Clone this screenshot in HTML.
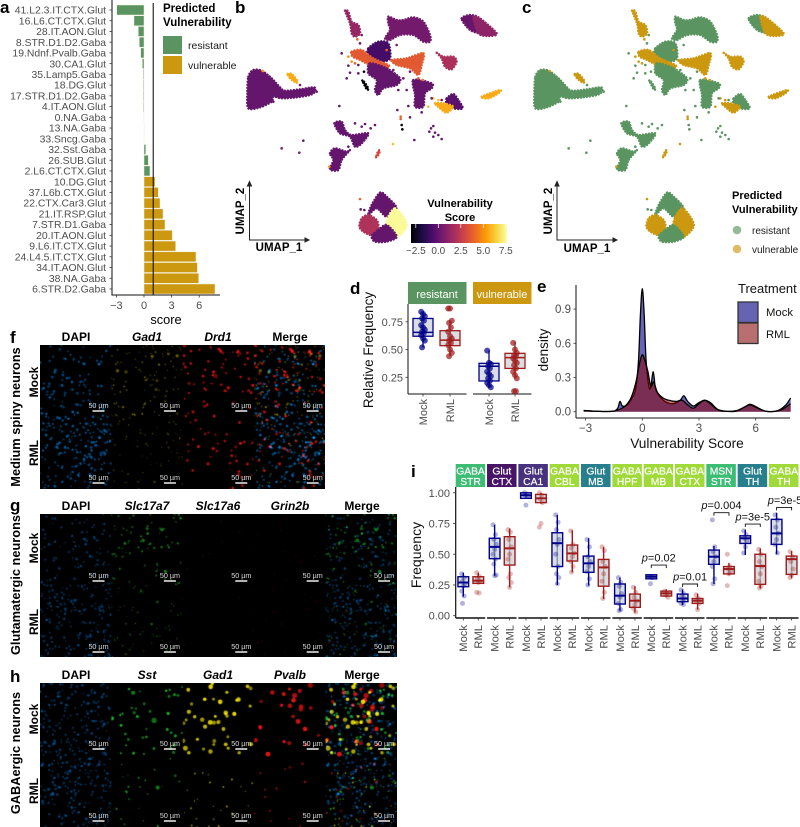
<!DOCTYPE html>
<html><head><meta charset="utf-8"><title>Vulnerability figure</title>
<style>
html,body{margin:0;padding:0;background:#fff;width:800px;height:827px;overflow:hidden}
#fig{position:relative;width:800px;height:827px}
canvas{position:absolute;display:block;background:#000}
svg{position:absolute;left:0;top:0}
text{font-family:"Liberation Sans",sans-serif}
.pl{font-size:17px;font-weight:700;fill:#000}
.bt{font-size:12px;font-weight:700;fill:#000;text-anchor:middle}
.bi{font-size:12px;font-weight:700;font-style:italic;fill:#000;text-anchor:middle}
.rt{font-size:12.800px;font-weight:700;fill:#000;text-anchor:middle}
.tk{font-size:11px;fill:#4d4d4d}
.lg{font-size:10.500px;fill:#1a1a1a}
</style></head><body>
<div id="fig">
<canvas id="cf" width="285" height="144" style="left:40px;top:345px"></canvas>
<canvas id="cg" width="357" height="143" style="left:40px;top:514px"></canvas>
<canvas id="ch" width="357" height="144" style="left:40px;top:683px"></canvas>
<svg id="s" width="800" height="827" viewBox="0 0 800 827">
<defs>
<linearGradient id="inf" x1="0" x2="1" y1="0" y2="0">
<stop offset="0" stop-color="#000004"/><stop offset=".111" stop-color="#1b0c41"/><stop offset=".222" stop-color="#4a0c6b"/><stop offset=".333" stop-color="#781c6d"/><stop offset=".444" stop-color="#a52c60"/><stop offset=".556" stop-color="#cf4446"/><stop offset=".667" stop-color="#ed6925"/><stop offset=".778" stop-color="#fb9b06"/><stop offset=".889" stop-color="#f7d13d"/><stop offset="1" stop-color="#fcffa4"/>
</linearGradient>
</defs>
<text class="pl" x="0" y="13">a</text>
<text class="pl" x="235" y="13">b</text>
<text class="pl" x="522" y="13">c</text>
<text class="pl" x="350" y="294">d</text>
<text class="pl" x="537" y="292">e</text>
<text class="pl" x="10" y="343">f</text>
<text class="pl" x="10" y="511">g</text>
<text class="pl" x="10" y="682">h</text>
<text class="pl" x="411" y="477">i</text>

<g id="pa"></g>
<text x="166" y="324" style="font-size:12.800px;text-anchor:middle;fill:#000">score</text>
<text x="163" y="12" style="font-size:11.500px;font-weight:700">Predicted</text>
<text x="163" y="26" style="font-size:11.500px;font-weight:700">Vulnerability</text>
<rect x="163" y="36" width="19" height="18" fill="#5a9460"/>
<rect x="163" y="56" width="19" height="18" fill="#cb9810"/>
<text class="lg" x="188" y="49">resistant</text>
<text class="lg" x="188" y="69">vulnerable</text>

<g id="pb"></g>
<g id="pc"></g>
<g stroke="#222" fill="none" stroke-width="1">
<path d="M249.500 184V240H306"/>
<path d="M247.500 186L249.500 181.500L251.500 186Z M305 238L309 240L305 242Z" fill="#222"/>
</g>
<text x="279" y="251" style="font-size:11.500px;font-weight:700;text-anchor:middle">UMAP_1</text>
<text transform="translate(244,211) rotate(-90)" style="font-size:11.500px;font-weight:700;text-anchor:middle">UMAP_2</text>
<g stroke="#222" fill="none" stroke-width="1">
<path d="M557 184V240H614"/>
<path d="M555 186L557 181.500L559 186Z M613 238L617 240L613 242Z" fill="#222"/>
</g>
<text x="587" y="252" style="font-size:11.500px;font-weight:700;text-anchor:middle">UMAP_1</text>
<text transform="translate(552,211) rotate(-90)" style="font-size:11.500px;font-weight:700;text-anchor:middle">UMAP_2</text>

<text x="460" y="207" style="font-size:11px;font-weight:700;text-anchor:middle">Vulnerability</text>
<text x="460" y="221" style="font-size:11px;font-weight:700;text-anchor:middle">Score</text>
<rect x="411" y="224" width="96" height="19" fill="url(#inf)"/>
<g id="cbt"></g>

<text x="732" y="199" style="font-size:11px;font-weight:700">Predicted</text>
<text x="732" y="213" style="font-size:11px;font-weight:700">Vulnerability</text>
<circle cx="737" cy="230" r="4.300" fill="#5a9460" opacity=".65"/>
<circle cx="737" cy="249" r="4.300" fill="#cb9810" opacity=".65"/>
<text class="lg" x="752" y="234" style="font-size:10px">resistant</text>
<text class="lg" x="752" y="253" style="font-size:10px">vulnerable</text>

<g id="pd"></g>
<rect x="408" y="282" width="58.500" height="22" fill="#5a9460"/>
<rect x="473" y="282" width="58.500" height="22" fill="#cb9810"/>
<text x="437" y="298" style="font-size:11px;fill:#fff;text-anchor:middle">resistant</text>
<text x="502" y="298" style="font-size:11px;fill:#fff;text-anchor:middle">vulnerable</text>
<text transform="translate(373,350) rotate(-90)" style="font-size:13.500px;text-anchor:middle;fill:#111">Relative Frequency</text>

<g id="pe"></g>
<text x="687" y="448" style="font-size:13.700px;text-anchor:middle;fill:#111">Vulnerability Score</text>
<text transform="translate(548,350) rotate(-90)" style="font-size:13.500px;text-anchor:middle;fill:#111">density</text>
<text x="738" y="293" style="font-size:13px;fill:#111">Treatment</text>
<rect x="738" y="302" width="20" height="20.500" fill="#6464b2" stroke="#333" stroke-width="1.300"/>
<rect x="738" y="323" width="20" height="20.500" fill="#b96f70" stroke="#333" stroke-width="1.300"/>
<text x="766" y="316" style="font-size:11.300px;fill:#111">Mock</text>
<text x="766" y="338" style="font-size:11.300px;fill:#111">RML</text>

<g id="pi"></g>
<text transform="translate(421,555) rotate(-90)" style="font-size:14px;text-anchor:middle;fill:#111">Frequency</text>

<text class="bt" x="76" y="341">DAPI</text>
<text class="bi" x="147" y="341">Gad1</text>
<text class="bi" x="218" y="341">Drd1</text>
<text class="bt" x="290" y="341">Merge</text>
<text class="bt" x="76" y="510">DAPI</text>
<text class="bi" x="147" y="510">Slc17a7</text>
<text class="bi" x="218" y="510">Slc17a6</text>
<text class="bi" x="290" y="510">Grin2b</text>
<text class="bt" x="362" y="510">Merge</text>
<text class="bt" x="76" y="679">DAPI</text>
<text class="bi" x="147" y="679">Sst</text>
<text class="bi" x="218" y="679">Gad1</text>
<text class="bi" x="290" y="679">Pvalb</text>
<text class="bt" x="362" y="679">Merge</text>

<text class="rt" transform="translate(20,417) rotate(-90)">Medium spiny neurons</text>
<text class="bt" transform="translate(38,382) rotate(-90)">Mock</text>
<text class="bt" transform="translate(38,453) rotate(-90)">RML</text>
<text class="rt" transform="translate(20,585) rotate(-90)">Glutamatergic neurons</text>
<text class="bt" transform="translate(38,548) rotate(-90)">Mock</text>
<text class="bt" transform="translate(38,622) rotate(-90)">RML</text>
<text class="rt" transform="translate(20,753) rotate(-90)">GABAergic neurons</text>
<text class="bt" transform="translate(38,719) rotate(-90)">Mock</text>
<text class="bt" transform="translate(38,791) rotate(-90)">RML</text>
<g id="bars"></g>
</svg>
</div>
<script>
/* ---------- panel a data ---------- */
const aCategories=["41.L2.3.IT.CTX.Glut","16.L6.CT.CTX.Glut","28.IT.AON.Glut","8.STR.D1.D2.Gaba","19.Ndnf.Pvalb.Gaba","30.CA1.Glut","35.Lamp5.Gaba","18.DG.Glut","17.STR.D1.D2.Gaba","4.IT.AON.Glut","0.NA.Gaba","13.NA.Gaba","33.Sncg.Gaba","32.Sst.Gaba","26.SUB.Glut","2.L6.CT.CTX.Glut","10.DG.Glut","37.L6b.CTX.Glut","22.CTX.Car3.Glut","21.IT.RSP.Glut","7.STR.D1.Gaba","20.IT.AON.Glut","9.L6.IT.CTX.Glut","24.L4.5.IT.CTX.Glut","34.IT.AON.Glut","38.NA.Gaba","6.STR.D2.Gaba"];
const aScores=[-2.97,-1.09,-0.62,-0.51,-0.36,-0.18,-0.09,-0.08,-0.08,-0.07,-0.01,0.01,0.03,0.2,0.47,0.65,1.2,1.56,1.74,2.07,2.28,3.08,3.44,5.65,5.8,5.94,7.72];
const aTicks=[-3,0,3,6];
const aCutoff=1;
const aVulnerableFrom=16;

/* ---------- panels b, c data (UMAP embedding units) ---------- */
const umapClusterNames=["left-main","left-streak","top-left-streak","top-arc","top-right-left","top-right-right","center-dark","center-band","right-band","right-blob","center-main","right-center","small-dark","small-orange","far-right-streak","lower-one","lower-two","black-squiggle","small-streak","tri-top","tri-left","tri-right","tri-bottom"];
const umapClusterScores=[0,5.6,1.3,0.4,0.1,1.1,-0.8,3.6,3.6,1.9,0,0,-0.3,5.6,5.6,0,0,-3,3,0,2,7.5,0];
const umapClusterOutlines=[
[[25,570],[40,590],[65,588],[95,565],[120,538],[135,528],[180,532],[222,538],[225,525],[210,515],[170,508],[125,505],[100,510],[95,495],[60,478],[25,475],[22,520]],
[[143,578],[155,578],[172,558],[168,552],[150,565]],
[[315,768],[325,765],[335,735],[355,725],[360,700],[345,690],[335,700],[330,730]],
[[445,750],[470,740],[490,740],[520,748],[550,735],[570,695],[570,675],[550,675],[520,695],[480,695],[450,680],[435,685],[450,710],[445,730]],
[[665,745],[690,755],[715,745],[740,700],[700,705],[680,720]],
[[700,750],[720,745],[770,700],[745,692],[715,700]],
[[385,655],[415,675],[445,670],[450,625],[420,615],[385,635]],
[[335,645],[365,650],[400,625],[445,605],[440,595],[400,600],[360,620],[338,630]],
[[455,620],[500,625],[550,640],[545,605],[535,575],[510,595],[470,605]],
[[590,642],[610,630],[640,630],[650,615],[635,592],[615,600],[605,625]],
[[390,610],[440,595],[480,565],[470,545],[430,535],[415,515],[405,530],[410,560],[385,580]],
[[520,560],[575,550],[575,535],[555,520],[550,480],[525,480],[525,515]],
[[620,505],[640,518],[655,500],[668,475],[640,475],[620,490]],
[[585,490],[610,490],[640,480],[620,462],[600,475]],
[[725,510],[780,530],[775,520],[745,505]],
[[283,430],[305,435],[315,410],[335,395],[385,400],[365,370],[345,360],[330,390],[300,400]],
[[270,340],[285,355],[320,345],[330,350],[305,320],[295,290],[270,292],[280,320]],
[[367,558],[372,555],[385,535],[380,532]],
[[408,328],[415,335],[420,348],[415,348],[410,335]],
[[420,222],[440,210],[470,175],[440,150],[410,175],[385,155],[395,185]],
[[385,155],[410,140],[415,115],[395,95],[370,105],[358,120],[365,145]],
[[465,175],[490,150],[500,120],[470,90],[440,120],[445,150]],
[[415,110],[440,125],[470,90],[440,75],[405,75],[395,92]]
];
const umapCellU1=[190,125,178,298,345,365,405,392,375,325,482,482,485,487,472,510,505,530,545,580,573,568,585,605,595,580,523,459,305,325,335,325,330,320,355,365,352,360,372,345,355,470,475,490,535,548,500,510,565,580,605,595,630,68,100,180,230,268,360,373,362,345,545,440,460,575];
const umapCellU2=[378,355,342,482,430,420,425,415,428,360,450,443,425,412,470,448,482,488,463,422,415,405,402,383,395,390,380,368,640,630,615,603,582,565,580,695,682,670,585,610,605,665,530,565,565,560,530,585,480,505,500,500,495,587,495,545,525,300,203,170,172,365,640,650,590,505];
const umapCellScore=[0,0.5,0.5,0,0,0.2,0,0,0,0,3.8,3.8,-3,-3,0,0,0,0,0,0,0.3,0,0,0,0,0,0,6,0,5,5,0,0,0,0,0,4,0,-3,4,0,0.5,0,0,3.5,4,0,0,6,6,0,6,0,5,0,0.3,0,5,4,0,0,0,4,4,0,0];
const colorbarTicks=[-2.5,0,2.5,5,7.5];
const vulnerableThreshold=1;

/* ---------- panel d data ---------- */
const dFacets=["resistant","vulnerable"];
const dGroups=["Mock","RML"];
const dTicks=[0.25,0.5,0.75];
const dQ1=[0.62,0.535,0.217,0.33];
const dMedian=[0.655,0.585,0.35,0.427];
const dQ3=[0.78,0.67,0.376,0.466];
const dLow=[0.52,0.44,0.16,0.24];
const dHigh=[0.84,0.76,0.49,0.57];
const dPoints=[
[0.84,0.82,0.8,0.78,0.76,0.72,0.7,0.68,0.66,0.65,0.63,0.6,0.58,0.52],
[0.87,0.87,0.76,0.74,0.7,0.66,0.62,0.6,0.58,0.56,0.54,0.5,0.47,0.44],
[0.49,0.38,0.37,0.35,0.33,0.3,0.28,0.26,0.24,0.22,0.2,0.18,0.16],
[0.56,0.5,0.47,0.45,0.44,0.42,0.4,0.38,0.36,0.33,0.3,0.27,0.24,0.125,0.125]];

/* ---------- panel e data ---------- */
const eXTicks=[-3,0,3,6];
const eYTicks=[0,0.3,0.6,0.9];
const eMockScore=[-3.1,-2.6,-2,-1.5,-1.3,-1.18,-1.05,-0.8,-0.55,-0.35,-0.2,-0.1,0,0.1,0.2,0.35,0.45,0.58,0.7,0.9,1.2,1.6,2,2.2,2.4,2.7,3,3.3,3.6,4,4.5,5,5.4,5.7,6,6.5,7,7.3,7.6,7.85];
const eMockDensity=[0.01,0.005,0.002,0.005,0.03,0.09,0.05,0.06,0.12,0.2,0.45,0.85,1.08,0.85,0.45,0.22,0.22,0.35,0.2,0.14,0.09,0.07,0.1,0.14,0.09,0.05,0.08,0.1,0.08,0.02,0.003,0.005,0.04,0.065,0.045,0.005,0.003,0.02,0.06,0.12];
const eRmlScore=[-3.1,-2.6,-2,-1.5,-1.2,-0.9,-0.6,-0.35,-0.15,0,0.15,0.3,0.45,0.6,0.8,1.1,1.4,1.8,2.1,2.4,2.7,3,3.3,3.6,4,4.5,5,5.4,5.7,6,6.5,7,7.4,7.85];
const eRmlDensity=[0.01,0.005,0.002,0.005,0.02,0.05,0.12,0.25,0.42,0.5,0.44,0.35,0.22,0.26,0.17,0.12,0.1,0.09,0.1,0.06,0.03,0.07,0.1,0.07,0.015,0.003,0.01,0.04,0.06,0.04,0.005,0.003,0.02,0.07];

/* ---------- panel i data ---------- */
const iFacetLine1=["GABA","Glut","Glut","GABA","Glut","GABA","GABA","GABA","MSN","Glut","GABA"];
const iFacetLine2=["STR","CTX","CA1","CBL","MB","HPF","MB","CTX","STR","TH","TH"];
const iFacetColors=["#3dbc74","#481467","#46327e","#a0da39","#277f8e","#a0da39","#a0da39","#a0da39","#3dbc74","#277f8e","#a0da39"];
const iTicks=[0,0.25,0.5,0.75,1];
const iTickLabels=["0.00","0.25","0.50","0.75","1.00"];
const iQ1=[0.236,0.263,0.464,0.412,0.955,0.92,0.4,0.445,0.353,0.24,0.095,0.068,0.3,0.16,0.114,0.1,0.418,0.34,0.588,0.255,0.58,0.336];
const iMedian=[0.27,0.285,0.56,0.548,0.98,0.955,0.59,0.507,0.426,0.393,0.163,0.122,0.317,0.182,0.14,0.122,0.48,0.38,0.63,0.404,0.67,0.46];
const iQ3=[0.317,0.317,0.63,0.643,1,0.987,0.675,0.575,0.485,0.458,0.258,0.176,0.333,0.2,0.176,0.14,0.534,0.4,0.65,0.5,0.784,0.485];
const iLow=[0.155,0.26,0.325,0.23,0.95,0.91,0.25,0.353,0.245,0.135,0.04,0.025,0.3,0.15,0.087,0.05,0.258,0.33,0.494,0.222,0.5,0.304];
const iHigh=[0.35,0.35,0.74,0.71,1,1,0.82,0.695,0.63,0.56,0.31,0.24,0.333,0.215,0.214,0.18,0.567,0.43,0.7,0.548,0.838,0.526];
const iPoints=[
[0.34,0.31,0.28,0.26,0.24,0.2,0.16,0.1],[0.35,0.32,0.3,0.28,0.27,0.19,0.185],
[0.74,0.66,0.62,0.58,0.54,0.5,0.46,0.42,0.33,0.325],[0.7,0.68,0.62,0.56,0.5,0.46,0.34,0.31,0.27,0.23],
[1,0.99,0.98,0.97,0.9],[1,0.98,0.95,0.92,0.75,0.72],
[0.82,0.76,0.7,0.62,0.58,0.5,0.4,0.34,0.31,0.26],[0.69,0.58,0.55,0.51,0.48,0.44,0.4,0.355],
[0.62,0.56,0.48,0.44,0.4,0.36,0.3,0.25],[0.56,0.53,0.44,0.4,0.34,0.28,0.19,0.14],
[0.31,0.27,0.24,0.18,0.15,0.1,0.05,0.04],[0.23,0.19,0.15,0.12,0.09,0.06,0.03],
[0.32,0.31,0.26],[0.2,0.18,0.17,0.15],
[0.21,0.18,0.16,0.14,0.12,0.1,0.09],[0.17,0.14,0.12,0.1,0.05],
[0.78,0.56,0.52,0.48,0.44,0.4,0.3,0.26],[0.5,0.4,0.38,0.36,0.34,0.245],
[0.69,0.66,0.63,0.61,0.56,0.51],[0.54,0.5,0.44,0.4,0.34,0.28,0.24,0.225],
[0.82,0.78,0.72,0.67,0.62,0.58,0.51],[0.52,0.48,0.44,0.38,0.33,0.31]];
const iPValueFacets=[6,7,8,9,10];
const iPValueLabels=["=0.02","=0.01","=0.004","=3e-5","=3e-5"];
const iPValueHeights=[0.412,0.258,0.838,0.746,0.881];

/* ---------- helpers ---------- */
const NS="http://www.w3.org/2000/svg";
function mk(parent,tag,attrs,txt){
  const el=document.createElementNS(NS,tag);
  for(const k in attrs) el.setAttribute(k,attrs[k]);
  if(txt!==undefined) el.textContent=txt;
  parent.appendChild(el);
  return el;
}
const $=id=>document.getElementById(id);
const MOCK="#00008b", RML="#a01c1c";

function smoothPath(xs,ys){
  let d="M"+xs[0].toFixed(2)+" "+ys[0].toFixed(2);
  for(let i=0;i<xs.length-1;i++){
    const i0=Math.max(0,i-1),i3=Math.min(xs.length-1,i+2);
    const c1x=xs[i]+(xs[i+1]-xs[i0])/6,c1y=ys[i]+(ys[i+1]-ys[i0])/6;
    const c2x=xs[i+1]-(xs[i3]-xs[i])/6,c2y=ys[i+1]-(ys[i3]-ys[i])/6;
    d+="C"+c1x.toFixed(2)+" "+c1y.toFixed(2)+" "+c2x.toFixed(2)+" "+c2y.toFixed(2)+" "+xs[i+1].toFixed(2)+" "+ys[i+1].toFixed(2);
  }
  return d;
}
function closedSmoothPath(xs,ys){
  const n=xs.length;
  let d="M"+xs[0].toFixed(2)+" "+ys[0].toFixed(2);
  for(let i=0;i<n;i++){
    const a=(i-1+n)%n,b=(i+1)%n,c=(i+2)%n;
    const c1x=xs[i]+(xs[b]-xs[a])/7,c1y=ys[i]+(ys[b]-ys[a])/7;
    const c2x=xs[b]-(xs[c]-xs[i])/7,c2y=ys[b]-(ys[c]-ys[i])/7;
    d+="C"+c1x.toFixed(2)+" "+c1y.toFixed(2)+" "+c2x.toFixed(2)+" "+c2y.toFixed(2)+" "+xs[b].toFixed(2)+" "+ys[b].toFixed(2);
  }
  return d+"Z";
}

function drawBox(parent,name,cx,w,yf,q1,med,q3,lo,hi,color,sw,msw){
  const g=mk(parent,"g",{});
  
  
  const wh=mk(g,"line",{x1:cx,x2:cx,y1:yf(lo),y2:yf(hi),stroke:color,"stroke-width":sw});
  
  
  const bx=mk(g,"rect",{x:cx-w/2,width:w,y:yf(q3),height:Math.max(yf(q1)-yf(q3),1),fill:"#c8d0d4","fill-opacity":.7,stroke:color,"stroke-width":sw});
  
  
  const md=mk(g,"line",{x1:cx-w/2,x2:cx+w/2,y1:yf(med),y2:yf(med),stroke:color,"stroke-width":msw});
  
  
  return g;
}

/* ---------- panel a ---------- */
(function(){
  const P=$("pa");
  const aX=v=>144+v*9.2, aY=i=>10+i*10.73;
  aCategories.forEach((c,i)=>{
    const v=aScores[i];
    const b=mk(P,"rect",{x:Math.min(aX(0),aX(v)),y:aY(i)-5,width:Math.abs(aX(v)-aX(0)),height:10,fill:i>=aVulnerableFrom?"#cb9810":"#5a9460",stroke:"#f4f1e0","stroke-width":.5});
    
    
    const t=mk(P,"text",{x:106,y:aY(i)+3.6,"text-anchor":"end",class:"tk",style:"font-size:10.400px"},c);
    
    
    const tk=mk(P,"line",{x1:109.500,x2:112,y1:aY(i),y2:aY(i),stroke:"#333","stroke-width":.8});
    
    
  });
  const yl=mk(P,"line",{x1:112,x2:112,y1:0,y2:295,stroke:"#444","stroke-width":1.300});
  
  
  const xl=mk(P,"line",{x1:111.500,x2:220,y1:295,y2:295,stroke:"#111","stroke-width":1});
  
  
  const cut=mk(P,"line",{x1:aX(aCutoff),x2:aX(aCutoff),y1:3,y2:295,stroke:"#000","stroke-width":1});
  
  
  aTicks.forEach(v=>{
    const tk=mk(P,"line",{x1:aX(v),x2:aX(v),y1:295,y2:297.500,stroke:"#333","stroke-width":.8});
    
    
    const t=mk(P,"text",{x:aX(v),y:309,"text-anchor":"middle",class:"tk"},String(v).replace("-","\u2212"));
    
    
  });
})();

/* ---------- panels b, c ---------- */
(function(){
  const stops=[[0,0,4],[27,12,65],[74,12,107],[120,28,109],[165,44,96],[207,68,70],[237,105,37],[251,155,6],[247,209,61],[252,255,164]];
  const inferno=v=>{
    let t=Math.max(0,Math.min(1,(v+3.03)/10.66))*9;
    const i=Math.min(8,Math.floor(t)),f=t-i,a=stops[i],b=stops[i+1];
    return "rgb("+a.map((c,k)=>Math.round(c+(b[k]-c)*f)).join(",")+")";
  };
  const classColor=v=>v>=vulnerableThreshold?"#cb9810":"#5a9460";
  const yU=u=>(800-u)/3;
  const draw=(P,xOrigin,colorOf,prefix)=>{
    const xU=u=>xOrigin+u/3;
    umapClusterOutlines.forEach((o,i)=>{
      const col=colorOf(umapClusterScores[i]);
      const d=closedSmoothPath(o.map(p=>xU(p[0])),o.map(p=>yU(p[1])));
      const c=mk(P,"path",{d:d,fill:col,stroke:col,"stroke-width":2.400,"stroke-linecap":"round","stroke-dasharray":"0.1 2.900"});
      
      
    });
    umapCellU1.forEach((u,i)=>{
      const c=mk(P,"circle",{cx:xU(u),cy:yU(umapCellU2[i]),r:1.300,fill:colorOf(umapCellScore[i])});
      
      
    });
  };
  draw($("pb"),240,inferno,"umap-score");
  draw($("pc"),527,classColor,"umap-class");
  const cbX=v=>438.3+v*9;
  colorbarTicks.forEach(v=>{
    const tk=mk($("cbt"),"line",{x1:cbX(v),x2:cbX(v),y1:224,y2:228,stroke:"#fff","stroke-width":.7});
    
    
    const t=mk($("cbt"),"text",{x:cbX(v),y:254,"text-anchor":"middle",class:"tk",style:"font-size:10px"},v.toFixed(1).replace("-","\u2212"));
    
    
  });
})();

/* ---------- panel d ---------- */
(function(){
  const P=$("pd");
  const dY=v=>377.3-(v-0.25)*111;
  const dCenters=k=>[423,450,489,515][k];
  const yl=mk(P,"line",{x1:408,x2:408,y1:304,y2:394,stroke:"#111","stroke-width":1});
  
  
  dFacets.forEach((f,i)=>{
    const x0=i?473:408;
    const xl=mk(P,"line",{x1:x0,x2:x0+58.500,y1:394,y2:394,stroke:"#111","stroke-width":1});
    
    
  });
  dTicks.forEach(v=>{
    const tk=mk(P,"line",{x1:405.500,x2:408,y1:dY(v),y2:dY(v),stroke:"#333","stroke-width":.8});
    
    
    const t=mk(P,"text",{x:403,y:dY(v)+4,"text-anchor":"end",class:"tk",style:"font-size:11px"},v.toFixed(2));
    
    
  });
  dPoints.forEach((vals,k)=>{
    const col=k%2?RML:MOCK, cx=dCenters(k);
    const g=drawBox(P,'box-'+dFacets[k>>1]+'-'+dGroups[k%2],cx,20,dY,dQ1[k],dMedian[k],dQ3[k],dLow[k],dHigh[k],col,1.300,1.500);
    vals.forEach((v,j)=>{
      const c=mk(g,"circle",{cx:cx+((j*7)%5-2)*.9,cy:dY(v),r:3,fill:col,"fill-opacity":.72});
      
      
    });
    const tk=mk(P,"line",{x1:cx,x2:cx,y1:394,y2:396.500,stroke:"#333","stroke-width":.8});
    
    
    const t=mk(P,"text",{transform:"translate("+(cx+3.800)+",399) rotate(-90)","text-anchor":"end",class:"tk"},dGroups[k%2]);
    
    
  });
})();

/* ---------- panel e ---------- */
(function(){
  const P=$("pe");
  const eX=v=>642.3+v*18.9, eY=v=>411.7-v*114;
  const area=(xs,ys,col,op,nm)=>{
    const px=xs.map(eX),py=ys.map(eY);
    const line=smoothPath(px,py);
    const a=mk(P,"path",{d:line+"L"+px[px.length-1]+" "+eY(0)+"L"+px[0]+" "+eY(0)+"Z",fill:col,"fill-opacity":op});
    
    
  };
  const outline=(xs,ys,nm)=>{
    const l=mk(P,"path",{d:smoothPath(xs.map(eX),ys.map(eY)),fill:"none",stroke:"#000","stroke-width":1.300});
    
    
  };
  area(eMockScore,eMockDensity,MOCK,.6,'mock');
  outline(eMockScore,eMockDensity,'mock');
  area(eRmlScore,eRmlDensity,"#8b0000",.55,'rml');
  outline(eRmlScore,eRmlDensity,'rml');
  const yl=mk(P,"line",{x1:576,x2:576,y1:285,y2:418,stroke:"#111","stroke-width":1});
  
  
  const xl=mk(P,"line",{x1:576,x2:790,y1:418,y2:418,stroke:"#111","stroke-width":1});
  
  
  eXTicks.forEach(v=>{
    const tk=mk(P,"line",{x1:eX(v),x2:eX(v),y1:418,y2:420.500,stroke:"#333","stroke-width":.8});
    
    
    const t=mk(P,"text",{x:eX(v),y:432,"text-anchor":"middle",class:"tk",style:"font-size:11.500px"},String(v).replace("-","\u2212"));
    
    
  });
  eYTicks.forEach(v=>{
    const tk=mk(P,"line",{x1:573.500,x2:576,y1:eY(v),y2:eY(v),stroke:"#333","stroke-width":.8});
    
    
    const t=mk(P,"text",{x:571,y:eY(v)+4,"text-anchor":"end",class:"tk",style:"font-size:11.500px"},v.toFixed(1));
    
    
  });
})();

/* ---------- panel i ---------- */
(function(){
  const P=$("pi");
  const iY=v=>615.7-v*122.9;
  const iFacetX=f=>455.7+f*31.33;
  const yl=mk(P,"line",{x1:455.700,x2:455.700,y1:487,y2:618,stroke:"#111","stroke-width":1.200});
  
  
  iTicks.forEach((v,i)=>{
    const tk=mk(P,"line",{x1:453,x2:455.700,y1:iY(v),y2:iY(v),stroke:"#333","stroke-width":.8});
    
    
    const t=mk(P,"text",{x:450,y:iY(v)+4,"text-anchor":"end",class:"tk",style:"font-size:11px"},iTickLabels[i]);
    
    
  });
  iFacetLine1.forEach((l1,f)=>{
    const x=iFacetX(f);
    const r=mk(P,"rect",{x:x,y:464,width:29.500,height:23,fill:iFacetColors[f]});
    
    
    const t1=mk(P,"text",{x:x+14.800,y:474.500,"text-anchor":"middle",fill:"#fff",stroke:"#fff","stroke-width":.2,style:"font-size:10.300px"},l1);
    
    
    const t2=mk(P,"text",{x:x+14.800,y:485,"text-anchor":"middle",fill:"#fff",stroke:"#fff","stroke-width":.2,style:"font-size:10.300px"},iFacetLine2[f]);
    
    
    const ax=mk(P,"line",{x1:x,x2:x+29.500,y1:618,y2:618,stroke:"#111","stroke-width":1.500});
    
    
    ["Mock","RML"].forEach((g,k)=>{
      const cx=x+7.600+k*15;
      const tk=mk(P,"line",{x1:cx,x2:cx,y1:618,y2:620.500,stroke:"#333","stroke-width":.8});
      
      
      const lb=mk(P,"text",{transform:"translate("+(cx+3.800)+",625) rotate(-90)","text-anchor":"end",class:"tk",style:"font-size:11.200px"},g);
      
      
      const n=f*2+k, col=k?RML:MOCK;
      const box=drawBox(P,'box-'+l1+'-'+iFacetLine2[f]+'-'+g,cx,10.700,iY,iQ1[n],iMedian[n],iQ3[n],iLow[n],iHigh[n],col,1.400,2);
      iPoints[n].forEach((v,j)=>{
        const c=mk(box,"circle",{cx:cx+((j*3)%5-2)*.8,cy:iY(v),r:2.500,fill:col,"fill-opacity":.3});
        
        
      });
    });
  });
  iPValueFacets.forEach((f,i)=>{
    const x=iFacetX(f), h=iY(iPValueHeights[i]);
    const br=mk(P,"path",{d:"M"+(x+7.600)+" "+(h+3)+"V"+h+"H"+(x+22.600)+"V"+(h+3),fill:"none",stroke:"#111","stroke-width":.9});
    
    
    const t=mk(P,"text",{x:Math.min(x+15.100+(i===4?3:0),785),y:h-3.500,"text-anchor":"middle",fill:"#111",style:"font-size:11px"});
    
    
    const pi=mk(t,"tspan",{"font-style":"italic"},"p");
    
    
    const pv=mk(t,"tspan",{},iPValueLabels[i]);
    
    
  });
})();

/* ---------- micrographs (texture only, fixed seed) ---------- */
(function(){
  const w=71.4;
  const panels=[
   {id:"cf",h:144,ch:[
     {c:"0,130,225",n:[95,170],r:1.1,a:.75,rs:[1,1]},
     {c:"205,190,0",n:[100,70],r:.75,a:.55,big:.04,rs:[1,.8]},
     {c:"240,20,20",n:[62,38],r:1.25,a:.9,rs:[1,1]}]},
   {id:"cg",h:143,ch:[
     {c:"0,110,200",n:[85,170],r:1,a:.6,rs:[1,1]},
     {c:"40,215,50",n:[70,60],r:.95,a:.6,big:.05,rs:[1,.7]},
     {c:"120,110,0",n:[10,8],r:.6,a:.3,rs:[1,1]},
     {c:"130,0,0",n:[16,12],r:.8,a:.38,rs:[1,1]}]},
   {id:"ch",h:144,ch:[
     {c:"0,115,205",n:[170,170],r:1.05,a:.62,rs:[1,1]},
     {c:"30,225,45",n:[38,24],r:1.25,a:.85,big:.08,rs:[1,.7]},
     {c:"250,235,10",n:[42,26],r:1.9,a:.95,rs:[1,.45]},
     {c:"250,20,20",n:[24,14],r:2,a:.95,rs:[1,.55]}]}
  ];
  let seed=48271;
  const rnd=()=>(seed=(seed*16807)%2147483647)/2147483647;
  panels.forEach(p=>{
    const ctx=$(p.id).getContext("2d");
    const lists=p.ch.map(ch=>{
      const d=[];
      [0,1].forEach(row=>{
        for(let i=0;i<ch.n[row];i++){
          const big=ch.big&&rnd()<ch.big;
          const s=ch.rs[row];
          d.push({x:rnd()*w,y:(row+rnd())*p.h/2,r:(big?2.1:1)*ch.r*s*(.7+.6*rnd()),a:ch.a*(.4+.6*s)*(.55+.45*rnd())});
        }
      });
      return d;
    });
    const plot=(col,ci)=>{
      ctx.save();
      ctx.beginPath();ctx.rect(col*w,0,w,p.h);ctx.clip();
      lists[ci].forEach(d=>{
        ctx.fillStyle="rgba("+p.ch[ci].c+","+d.a+")";
        ctx.beginPath();ctx.arc(col*w+d.x,d.y,d.r,0,7);ctx.fill();
      });
      ctx.restore();
    };
    lists.forEach((_,ci)=>plot(ci,ci));
    ctx.globalCompositeOperation="lighter";
    lists.forEach((_,ci)=>plot(lists.length,ci));
    ctx.globalCompositeOperation="source-over";
  });
  const B=$("bars");
  const rows=[[411,4],[483,4],[581,5],[652,5],[749,5],[821,5]];
  rows.forEach(r=>{
    for(let c=0;c<r[1];c++){
      const x=98.500+c*71.4;
      const b=mk(B,"rect",{x:x-6,y:r[0]-.7,width:12,height:1.400,fill:"#fff"});
      
      
      const t=mk(B,"text",{x:x,y:r[0]-3,"text-anchor":"middle",fill:"#ddd",style:"font-size:7.200px"},"50 \u00b5m");
      
      
    }
  });
})();
</script>
</body></html>
